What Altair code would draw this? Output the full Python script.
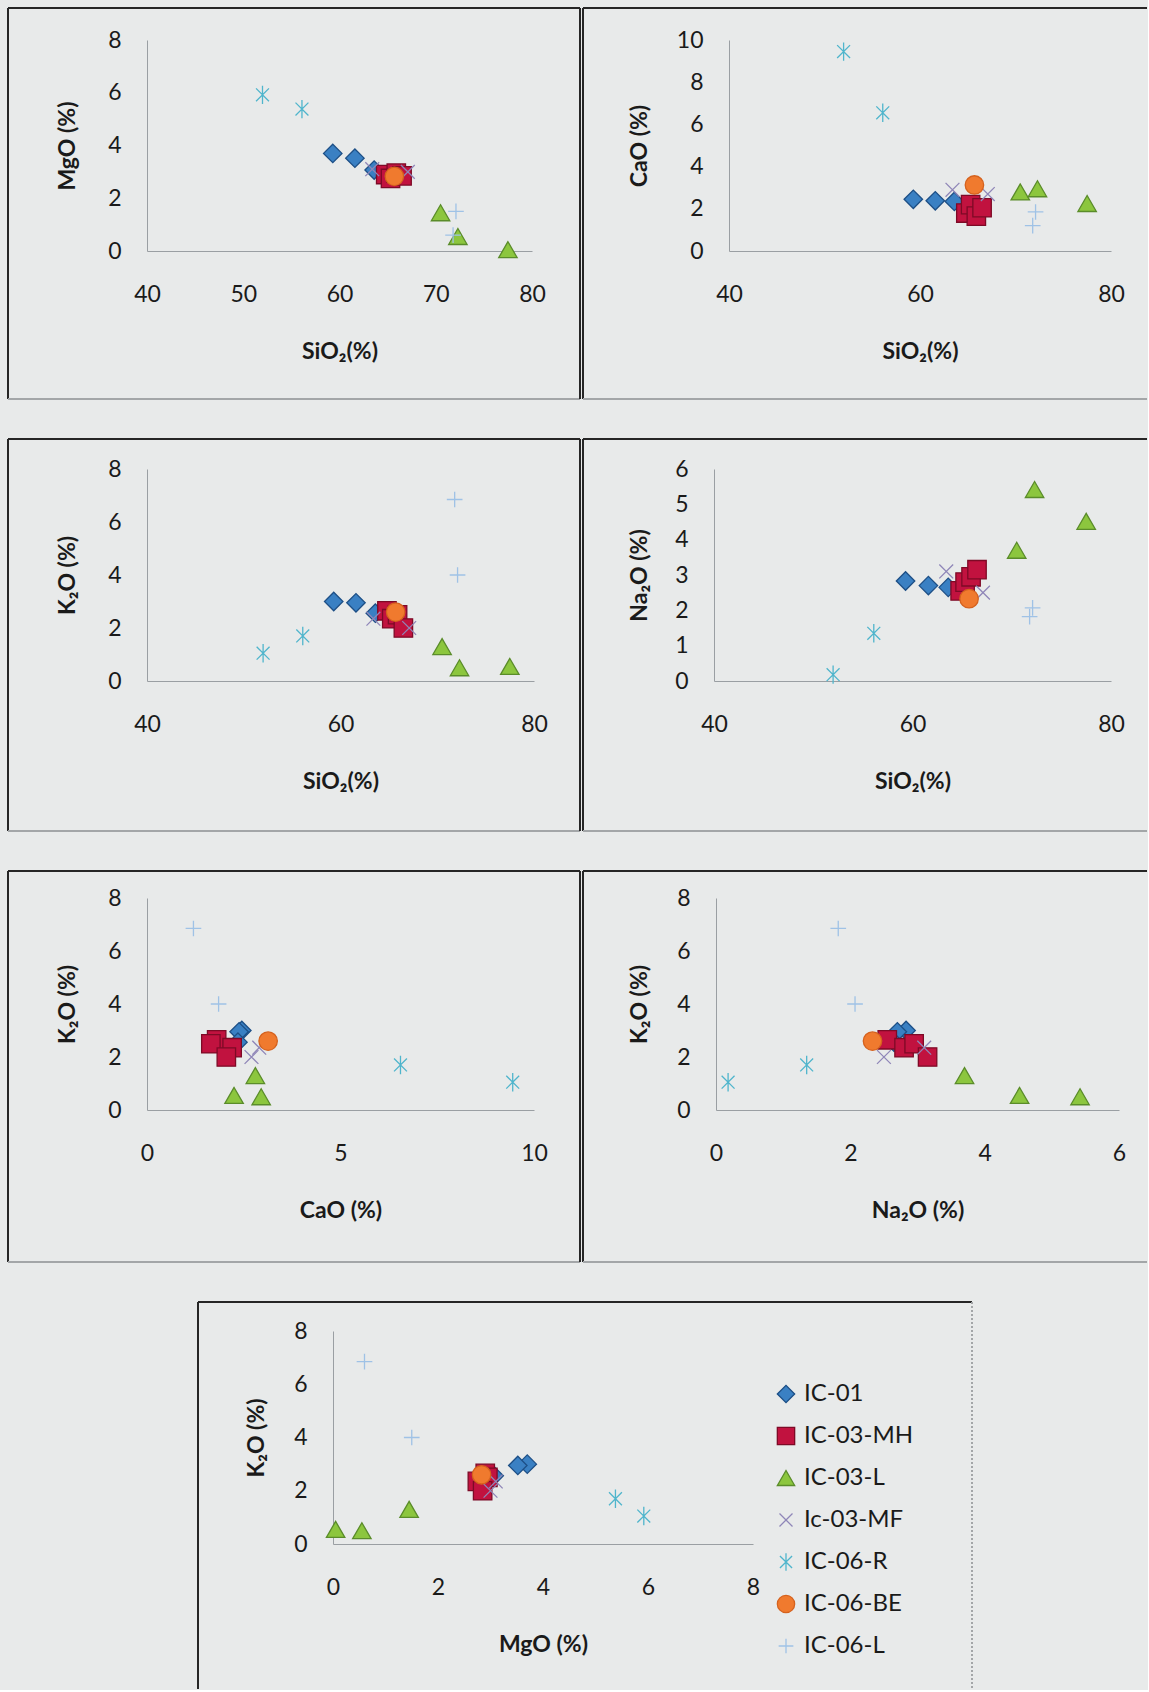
import altair as alt
import pandas as pd

# ---------------- data ----------------
series = ["IC-01", "IC-03-MH", "IC-03-L", "Ic-03-MF", "IC-06-R", "IC-06-BE", "IC-06-L"]

sample = (["IC-01"] * 3 + ["IC-03-MH"] * 4 + ["IC-03-L"] * 3 + ["Ic-03-MF"] * 2
          + ["IC-06-R"] * 2 + ["IC-06-BE"] + ["IC-06-L"] * 2)
sio2 = [59.3, 61.6, 63.6, 64.8, 65.3, 65.9, 66.5, 70.5, 72.3, 77.5, 63.4, 67.1, 52.0, 56.1, 65.7, 71.8, 72.1]
mgo = [3.70, 3.52, 3.07, 2.90, 2.75, 2.95, 2.85, 1.45, 0.55, 0.05, 3.10, 3.00, 5.92, 5.38, 2.83, 0.60, 1.50]
cao = [2.45, 2.38, 2.35, 1.80, 2.20, 1.65, 2.05, 2.80, 2.95, 2.25, 2.90, 2.70, 9.45, 6.55, 3.13, 1.20, 1.85]
k2o = [3.00, 2.95, 2.56, 2.65, 2.35, 2.50, 2.00, 1.30, 0.50, 0.55, 2.35, 2.00, 1.05, 1.70, 2.60, 6.85, 4.00]
na2o = [2.83, 2.70, 2.65, 2.55, 2.80, 2.95, 3.15, 3.70, 5.42, 4.52, 3.10, 2.50, 0.18, 1.35, 2.33, 1.82, 2.07]

df = pd.DataFrame({"Sample": sample, "SiO2": sio2, "MgO": mgo, "CaO": cao, "K2O": k2o, "Na2O": na2o})

# ---------------- styles ----------------
X_PATH = "M-0.75,-0.75L0.75,0.75M-0.75,0.75L0.75,-0.75"
AST_PATH = "M-0.7,-0.7L0.7,0.7M-0.7,0.7L0.7,-0.7M0,-1L0,1"
PLUS_PATH = "M-0.85,0L0.85,0M0,-0.85L0,0.85"
shapes = ["diamond", "square", "triangle-up", X_PATH, AST_PATH, "circle", PLUS_PATH]
fills = ["#3a80c3", "#c1123f", "#8cc63e", "transparent", "transparent", "#f07a2e", "transparent"]
strokes = ["#1d4f86", "#7d0a26", "#5a8c2a", "#8f86b8", "#4fb5cc", "#d5621e", "#9fc2e6"]

FONT = "Lato"
TXT = "#1a1a1a"
DARK = "#262626"
LIGHT = "#a3a6a8"

one = pd.DataFrame({"k": [0]})


def hline(x1, x2, y, color, dash=None):
    kw = {"color": color, "strokeWidth": 2}
    if dash:
        kw["strokeDash"] = dash
    return alt.Chart(one).mark_rule(**kw).encode(x=alt.value(x1), x2=alt.value(x2), y=alt.value(y))


def vline(x, y1, y2, color, dash=None):
    kw = {"color": color, "strokeWidth": 2}
    if dash:
        kw["strokeDash"] = dash
    return alt.Chart(one).mark_rule(**kw).encode(x=alt.value(x), y=alt.value(y1), y2=alt.value(y2))


def panel(xcol, ycol, xdom, xvals, ydom, yvals, xtitle, ytitle, w, h, frame, ytx,
          legend=None, right="dark", bottom=True):
    pts = alt.Chart(df).mark_point(filled=False, size=340, strokeWidth=1.3, opacity=1).encode(
        x=alt.X(f"{xcol}:Q",
                scale=alt.Scale(domain=xdom, nice=False, zero=False),
                axis=alt.Axis(values=xvals, title=xtitle, labelPadding=32, labelFlush=False,
                              titleX=w / 2, titleY=100, titleBaseline="middle",
                              titleAlign="center")),
        y=alt.Y(f"{ycol}:Q",
                scale=alt.Scale(domain=ydom, nice=False, zero=False),
                axis=alt.Axis(values=yvals, title=ytitle, labelPadding=26, labelFlush=False,
                              titleX=ytx, titleY=h / 2, titleAngle=270,
                              titleBaseline="middle", titleAlign="center")),
        shape=alt.Shape("Sample:N", scale=alt.Scale(domain=series, range=shapes), legend=legend),
        fill=alt.Fill("Sample:N", scale=alt.Scale(domain=series, range=fills), legend=legend),
        stroke=alt.Stroke("Sample:N", scale=alt.Scale(domain=series, range=strokes), legend=legend),
    )
    fl, fr, ft, fb = frame
    layers = [hline(fl, fr, ft, DARK), vline(fl, ft, fb, DARK)]
    if bottom:
        layers.append(hline(fl, fr, fb, LIGHT))
    if right == "dark":
        layers.append(vline(fr, ft, fb, DARK))
    elif right == "dotted":
        layers.append(vline(fr, ft, fb, LIGHT, dash=[2, 2]))
    layers.append(pts)
    return alt.layer(*layers).properties(width=w, height=h)


p1 = panel("SiO2", "MgO", [40, 80], [40, 50, 60, 70, 80], [0, 8], [0, 2, 4, 6, 8],
           "SiO₂(%)", "MgO (%)", 385, 211, (-139, 433, -32, 359), -80)
p2 = panel("SiO2", "CaO", [40, 80], [40, 60, 80], [0, 10], [0, 2, 4, 6, 8, 10],
           "SiO₂(%)", "CaO (%)", 382, 211, (-146, 418, -32, 359), -90, right=None)
p3 = panel("SiO2", "K2O", [40, 80], [40, 60, 80], [0, 8], [0, 2, 4, 6, 8],
           "SiO₂(%)", "K₂O (%)", 387, 212, (-139, 433, -30, 362), -80)
p4 = panel("SiO2", "Na2O", [40, 80], [40, 60, 80], [0, 6], [0, 1, 2, 3, 4, 5, 6],
           "SiO₂(%)", "Na₂O (%)", 397, 212, (-131, 433, -30, 362), -75, right=None)
p5 = panel("CaO", "K2O", [0, 10], [0, 5, 10], [0, 8], [0, 2, 4, 6, 8],
           "CaO (%)", "K₂O (%)", 387, 212, (-139, 433, -27, 364), -80)
p6 = panel("Na2O", "K2O", [0, 6], [0, 2, 4, 6], [0, 8], [0, 2, 4, 6, 8],
           "Na₂O (%)", "K₂O (%)", 403, 212, (-133, 431, -27, 364), -77, right=None)

leg = alt.Legend(orient="none", legendX=441, legendY=51, title=None, padding=0,
                 labelFont=FONT, labelFontSize=24, labelColor=TXT, labelOffset=6,
                 symbolSize=300, symbolStrokeWidth=1.3, rowPadding=18)
p7 = panel("MgO", "K2O", [0, 8], [0, 2, 4, 6, 8], [0, 8], [0, 2, 4, 6, 8],
           "MgO (%)", "K₂O (%)", 420, 213, (-135, 639, -29, 358), -77,
           legend=leg, right="dotted", bottom=False)

# an empty cell that pushes the last panel to the right
blank = alt.Chart(one).mark_rect(fill="transparent").encode(
    x=alt.value(0), x2=alt.value(50), y=alt.value(0), y2=alt.value(1)
).properties(width=50, height=1)

row1 = alt.hconcat(p1, p2, spacing=1)
row2 = alt.hconcat(p3, p4, spacing=1)
row3 = alt.hconcat(p5, p6, spacing=1)
row4 = alt.hconcat(blank, p7, spacing=0).resolve_legend(
    shape="independent", fill="independent", stroke="independent")

chart = alt.vconcat(row1, row2, row3, row4, spacing=38).resolve_legend(
    shape="independent", fill="independent", stroke="independent"
).properties(
    background="#e8eaea",
    padding={"left": 7, "top": 7, "right": 0, "bottom": 0},
).configure_view(stroke=None).configure_axis(
    grid=False, ticks=False, tickSize=0,
    domainColor="#9a9fa3", domainWidth=1,
    labelFont=FONT, labelFontSize=23, labelColor=TXT,
    titleFont=FONT, titleFontSize=23, titleFontWeight="bold", titleColor=TXT,
)

chart.save("out.html", embed_options={"renderer": "svg", "actions": False})
